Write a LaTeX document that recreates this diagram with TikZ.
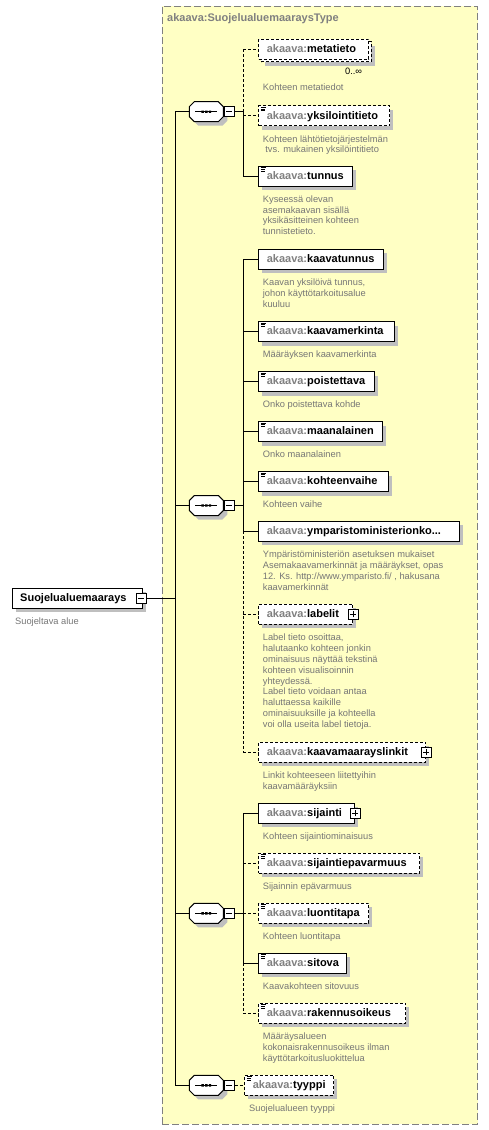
\documentclass[tikz,border=0pt]{standalone}
\usepackage{fontspec}
\setmainfont{Liberation Sans}
\usetikzlibrary{positioning}
\definecolor{typeyellow}{RGB}{255,255,196}
\definecolor{nsgray}{RGB}{128,128,128}
\definecolor{descgray}{RGB}{118,118,118}
\colorlet{boxshade}{black!25}
\newcommand{\akname}[1]{\textcolor{nsgray}{akaava:}#1}
% element box with its shadow: style, name, x, y, text width, text
\newcommand{\schemaelem}[6]{%
        \fill[boxshade] (#3+4,#4-6) rectangle ++(#5+16pt,20);
        \node[#1, text width=#5] (#2) at (#3,#4) {#6};}
\newcommand{\seqoutline}{(-12,-10) -- (12,-10) -- (17,-5) -- (17,5) -- (12,10) -- (-12,10) -- (-17,5) -- (-17,-5) -- cycle}
\newcommand{\drawseq}[1]{%
        \fill[boxshade, shift={(#1.center)}, shift={(4,4)}] \seqoutline;
        \filldraw[draw=black, fill=white, line width=1pt, shift={(#1.center)}] \seqoutline;
        \draw[line width=1pt, shift={(#1.center)}] (-11,0) -- (11,0);
        \fill[shift={(#1.center)}] (-4.9,-1.2) rectangle (-2.5,1.2) (-1.2,-1.2) rectangle (1.2,1.2) (2.5,-1.2) rectangle (4.9,1.2);}

\begin{document}
\begin{tikzpicture}[x=1pt, y=-1pt,
        conn/.style={line width=1pt},
        optconn/.style={line width=1pt, dash pattern=on 3pt off 2pt},
        elem/.style={rectangle, draw=black, fill=white, line width=1pt, anchor=west, minimum height=20pt, inner xsep=8pt, inner ysep=0pt, text height=8.5pt, text depth=1.7pt, align=left, font=\fontsize{11}{13}\selectfont\bfseries},
        optelem/.style={elem, dash pattern=on 3pt off 2pt},
        simple/.style={path picture={
            \draw[solid, line width=0.8pt] ([shift={(2,1.5)}]path picture bounding box.north west) -- ++(5,0)
                ([shift={(2,3.2)}]path picture bounding box.north west) -- ++(4.5,0)
                ([shift={(2,4.9)}]path picture bounding box.north west) -- ++(4.5,0);}},
        btn/.style={rectangle, draw=black, fill=white, line width=1pt, solid, minimum size=10pt, inner sep=0pt},
        minusbtn/.style={btn, path picture={
            \draw[line width=1pt] ([xshift=2pt]path picture bounding box.west) -- ([xshift=-2pt]path picture bounding box.east);}},
        plusbtn/.style={btn, path picture={
            \draw[line width=1pt] ([xshift=2pt]path picture bounding box.west) -- ([xshift=-2pt]path picture bounding box.east)
                ([yshift=2pt]path picture bounding box.south) -- ([yshift=-2pt]path picture bounding box.north);}},
        seqnode/.style={rectangle, minimum width=34pt, minimum height=20pt, inner sep=0pt},
        desc/.style={text=descgray, inner sep=0pt, align=left, font=\fontsize{9.3}{10.9}\selectfont},
        mult/.style={inner sep=0pt, font=\fontsize{9.3}{11}\selectfont},
        typeframe/.style={rectangle, draw=nsgray, fill=typeyellow, line width=1pt, dash pattern=on 7pt off 3pt, anchor=north west, minimum width=315.5pt, minimum height=1118pt, inner sep=0pt},
        typetitle/.style={anchor=west, inner sep=0pt, text=nsgray, font=\fontsize{11}{13}\selectfont\bfseries}]
        \useasboundingbox (0,0) rectangle (488,1130);

        % complex type frame
        \node[typeframe] (typebox) at (161.5,5.5) {};
        \node[typetitle] (typetitle) at (167,19) {akaava:SuojelualuemaaraysType};

        % root element
        \schemaelem{elem}{main}{11.7}{598.3}{114pt}{Suojelualuemaarays}
        \node[minusbtn] (mainbtn) at ([xshift=-1.5pt]main.east) {};
        \node[desc] (maindesc) [below right=8.7pt and 3.3pt of main.south west] {Suojeltava alue};
        \coordinate (spine) at (175,598.3);

        % sequences
        \node[seqnode] (seqA) at (206.3,111.7) {};
        \node[seqnode] (seqB) at (206.3,505.5) {};
        \node[seqnode] (seqC) at (206.3,913.3) {};
        \node[seqnode] (seqD) at (206.3,1085.3) {};
        \drawseq{seqA}
        \drawseq{seqB}
        \drawseq{seqC}
        \drawseq{seqD}
        \node[minusbtn] (seqAbtn) [right=0pt of seqA] {};
        \node[minusbtn] (seqBbtn) [right=0pt of seqB] {};
        \node[minusbtn] (seqCbtn) [right=0pt of seqC] {};
        \node[minusbtn] (seqDbtn) [right=0pt of seqD] {};
        \coordinate (brA) at (243,111.7);
        \coordinate (brB) at (243,505.5);
        \coordinate (brC) at (243,913.3);

        % first sequence
        \schemaelem{optelem}{metaback}{260.8}{51.8}{94pt}{}
        \node[optelem, text width=94pt] (meta) at (258.3,49) {\akname{metatieto}};
        \node[mult] (metamult) [below left=6pt and 9.5pt of metaback.south east] {0..∞};
        \node[desc] (metadesc) [below right=24.5pt and 4.4pt of meta.south west] {Kohteen metatiedot};
        \schemaelem{optelem, simple}{yksi}{258.3}{115.9}{115pt}{\akname{yksilointitieto}}
        \node[desc] (yksidesc) [below right=8.7pt and 4.4pt of yksi.south west] {Kohteen lähtötietojärjestelmän\\\hspace*{2.5pt}tvs. mukainen yksilöintitieto};
        \schemaelem{elem, simple}{tunnus}{258.3}{176}{78pt}{\akname{tunnus}}
        \node[desc] (tunnusdesc) [below right=8.7pt and 4.4pt of tunnus.south west] {Kyseessä olevan\\asemakaavan sisällä\\yksikäsitteinen kohteen\\tunnistetieto.};

        % second sequence
        \schemaelem{elem}{kaavatunnus}{258.3}{259.3}{109pt}{\akname{kaavatunnus}}
        \node[desc] (kaavatunnusdesc) [below right=8.7pt and 4.4pt of kaavatunnus.south west] {Kaavan yksilöivä tunnus,\\johon käyttötarkoitusalue\\kuuluu};
        \schemaelem{elem, simple}{kaavamerkinta}{258.3}{331.5}{120pt}{\akname{kaavamerkinta}}
        \node[desc] (kaavamerkintadesc) [below right=8.7pt and 4.4pt of kaavamerkinta.south west] {Määräyksen kaavamerkinta};
        \schemaelem{elem, simple}{poistettava}{258.3}{381.5}{100pt}{\akname{poistettava}}
        \node[desc] (poistettavadesc) [below right=8.7pt and 4.4pt of poistettava.south west] {Onko poistettava kohde};
        \schemaelem{elem, simple}{maanalainen}{258.3}{431.5}{108pt}{\akname{maanalainen}}
        \node[desc] (maanalainendesc) [below right=8.7pt and 4.4pt of maanalainen.south west] {Onko maanalainen};
        \schemaelem{elem, simple}{kohteenvaihe}{258.3}{481.5}{114pt}{\akname{kohteenvaihe}}
        \node[desc] (kohteenvaihedesc) [below right=8.7pt and 4.4pt of kohteenvaihe.south west] {Kohteen vaihe};
        \schemaelem{elem}{ympar}{258.3}{531.3}{185pt}{\akname{ymparistoministerionko...}}
        \node[desc] (ympardesc) [below right=8.7pt and 4.4pt of ympar.south west] {Ympäristöministeriön asetuksen mukaiset\\Asemakaavamerkinnät ja määräykset, opas\\12. Ks. http://www.ymparisto.fi/ , hakusana\\kaavamerkinnät};
        \schemaelem{optelem}{labelit}{258.3}{614.3}{78pt}{\akname{labelit}}
        \node[plusbtn] (labelitbtn) at (labelit.east) {};
        \node[desc] (labelitdesc) [below right=8.7pt and 4.4pt of labelit.south west] {Label tieto osoittaa,\\halutaanko kohteen jonkin\\ominaisuus näyttää tekstinä\\kohteen visualisoinnin\\yhteydessä.\\Label tieto voidaan antaa\\haluttaessa kaikille\\ominaisuuksille ja kohteella\\voi olla useita label tietoja.};
        \schemaelem{optelem}{linkit}{258.3}{752.3}{151pt}{\akname{kaavamaarayslinkit}}
        \node[plusbtn] (linkitbtn) at (linkit.east) {};
        \node[desc] (linkitdesc) [below right=8.7pt and 4.4pt of linkit.south west] {Linkit kohteeseen liitettyihin\\kaavamääräyksiin};

        % third sequence
        \schemaelem{elem}{sijainti}{258.3}{813.3}{80pt}{\akname{sijainti}}
        \node[plusbtn] (sijaintibtn) at (sijainti.east) {};
        \node[desc] (sijaintidesc) [below right=8.7pt and 4.4pt of sijainti.south west] {Kohteen sijaintiominaisuus};
        \schemaelem{optelem, simple}{epavarmuus}{258.3}{863.3}{145pt}{\akname{sijaintiepavarmuus}}
        \node[desc] (epavarmuusdesc) [below right=8.7pt and 4.4pt of epavarmuus.south west] {Sijainnin epävarmuus};
        \schemaelem{optelem, simple}{luontitapa}{258.3}{913.3}{94pt}{\akname{luontitapa}}
        \node[desc] (luontitapadesc) [below right=8.7pt and 4.4pt of luontitapa.south west] {Kohteen luontitapa};
        \schemaelem{elem, simple}{sitova}{258.3}{963.3}{72pt}{\akname{sitova}}
        \node[desc] (sitovadesc) [below right=8.7pt and 4.4pt of sitova.south west] {Kaavakohteen sitovuus};
        \schemaelem{optelem, simple}{rakennus}{258.3}{1013.3}{131pt}{\akname{rakennusoikeus}}
        \node[desc] (rakennusdesc) [below right=8.7pt and 4.4pt of rakennus.south west] {Määräysalueen\\kokonaisrakennusoikeus ilman\\käyttötarkoitusluokittelua};

        % fourth sequence
        \schemaelem{optelem, simple}{tyyppi}{244.3}{1085.3}{73pt}{\akname{tyyppi}}
        \node[desc] (tyyppidesc) [below right=8.7pt and 4.7pt of tyyppi.south west] {Suojelualueen tyyppi};

        % root to sequences
        \draw[conn] (mainbtn.east) -- (spine);
        \draw[conn] (seqA.west) -- (seqA.west -| spine) -- (seqD.west -| spine) -- (seqD.west);
        \draw[conn] (seqB.west) -- (seqB.west -| spine);
        \draw[conn] (seqC.west) -- (seqC.west -| spine);

        % branches of the first sequence
        \draw[conn] (seqAbtn.east) -- (brA);
        \draw[optconn] (meta.west -| brA) -- (brA);
        \draw[conn] (brA) -- (tunnus.west -| brA);
        \draw[optconn] (meta.west -| brA) -- (meta.west);
        \draw[optconn] (yksi.west -| brA) -- (yksi.west);
        \draw[conn] (tunnus.west -| brA) -- (tunnus.west);

        % branches of the second sequence
        \draw[conn] (seqBbtn.east) -- (brB);
        \draw[conn] (kaavatunnus.west -| brB) -- (ympar.west -| brB);
        \draw[optconn] (ympar.west -| brB) -- (linkit.west -| brB);
        \draw[conn] (kaavatunnus.west -| brB) -- (kaavatunnus.west);
        \draw[conn] (kaavamerkinta.west -| brB) -- (kaavamerkinta.west);
        \draw[conn] (poistettava.west -| brB) -- (poistettava.west);
        \draw[conn] (maanalainen.west -| brB) -- (maanalainen.west);
        \draw[conn] (kohteenvaihe.west -| brB) -- (kohteenvaihe.west);
        \draw[conn] (ympar.west -| brB) -- (ympar.west);
        \draw[optconn] (labelit.west -| brB) -- (labelit.west);
        \draw[optconn] (linkit.west -| brB) -- (linkit.west);

        % branches of the third sequence
        \draw[conn] (seqCbtn.east) -- (brC);
        \draw[conn] (sijainti.west -| brC) -- (sitova.west -| brC);
        \draw[optconn] (sitova.west -| brC) -- (rakennus.west -| brC);
        \draw[conn] (sijainti.west -| brC) -- (sijainti.west);
        \draw[optconn] (epavarmuus.west -| brC) -- (epavarmuus.west);
        \draw[optconn] (luontitapa.west -| brC) -- (luontitapa.west);
        \draw[conn] (sitova.west -| brC) -- (sitova.west);
        \draw[optconn] (rakennus.west -| brC) -- (rakennus.west);

        % fourth sequence
        \draw[optconn] (seqDbtn.east) -- (tyyppi.west);
\end{tikzpicture}
\end{document}
